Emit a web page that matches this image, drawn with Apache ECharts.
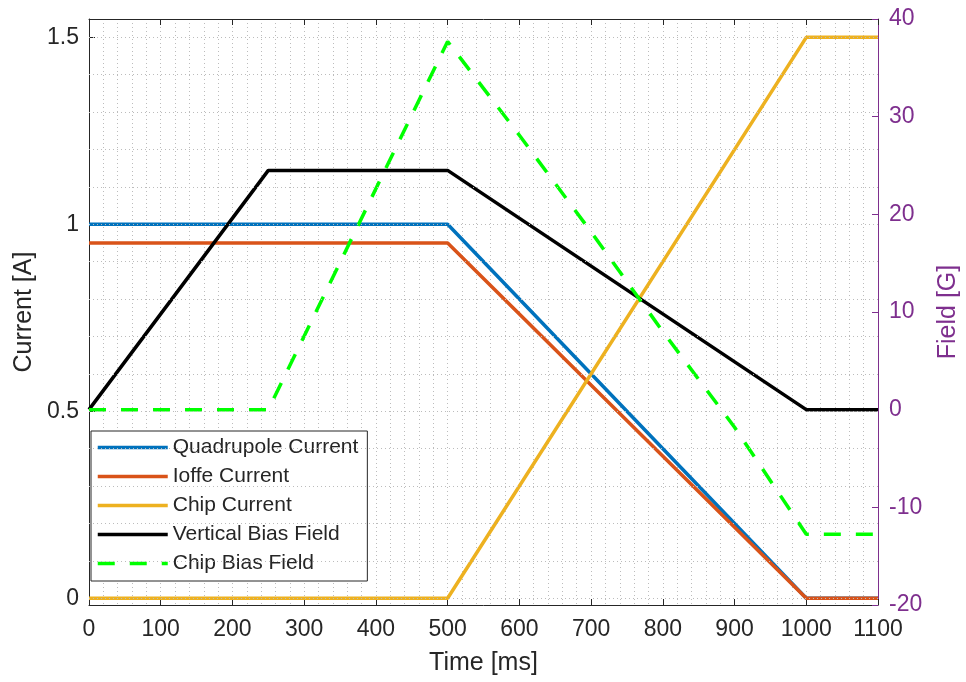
<!DOCTYPE html>
<html>
<head>
<meta charset="utf-8">
<script src="https://cdn.jsdelivr.net/npm/echarts@6/dist/echarts.min.js"></script>
<style>
  html, body { margin: 0; padding: 0; background: #fff; }
  #chart { width: 966px; height: 682px; }
</style>
</head>
<body>
<div id="chart"></div>
<script>
// Coil currents (left axis, A) and bias fields (right axis, G) versus time (ms)
const quadTime = [0, 500, 1000, 1100];
const quadCurrent = [1, 1, 0, 0];

const ioffeTime = [0, 500, 1000, 1100];
const ioffeCurrent = [0.95, 0.95, 0, 0];

const chipTime = [0, 500, 1000, 1100];
const chipCurrent = [0, 0, 1.5, 1.5];

const vertTime = [0, 250, 500, 1000, 1100];
const vertField = [0, 24.5, 24.5, 0, 0];

const chipBiasTime = [0, 250, 500, 600, 700, 800, 900, 1000, 1100];
const chipBiasField = [0, 0, 37.7, 28.1, 18.2, 8.0, -1.8, -12.75, -12.75];

const timeTicks = [0, 100, 200, 300, 400, 500, 600, 700, 800, 900, 1000, 1100];
const currentTicks = [0, 0.5, 1, 1.5];
const currentGridLevels = [0, 0.1, 0.2, 0.3, 0.4, 0.5, 0.6, 0.7, 0.8, 0.9, 1, 1.1, 1.2, 1.3, 1.4, 1.5];
const fieldTicks = [-20, -10, 0, 10, 20, 30, 40];

const FONT = '"Liberation Sans", Arial, Helvetica, sans-serif';
const INK = '#262626';
const PURPLE = '#7E2F8E';
const GRID_DOT = { color: '#bcbcbc', width: 1, type: [1, 3] };
const plainNumber = v => String(v);

const pairs = (xs, ys) => xs.map((x, i) => [x, ys[i]]);

const chart = echarts.init(document.getElementById('chart'), null, { renderer: 'canvas' });

const lineSeries = (name, xs, ys, color, axis, dashed) => ({
  name,
  type: 'line',
  yAxisIndex: axis,
  data: pairs(xs, ys),
  showSymbol: false,
  symbol: 'none',
  animation: false,
  z: 3,
  lineStyle: { color, width: 3.5, type: dashed ? [17, 15] : 'solid', cap: 'butt' },
  itemStyle: { color }
});

chart.setOption({
  animation: false,
  backgroundColor: '#ffffff',
  textStyle: { fontFamily: FONT },
  grid: { left: 89, top: 19, right: 88, bottom: 77, containLabel: false, outerBoundsMode: 'none' },
  legend: {
    data: ['Quadrupole Current', 'Ioffe Current', 'Chip Current', 'Vertical Bias Field', 'Chip Bias Field'],
    orient: 'vertical',
    left: 91,
    top: 431,
    itemWidth: 70,
    itemHeight: 21,
    itemGap: 8,
    padding: [6, 9, 7, 5],
    borderColor: INK,
    borderWidth: 1,
    borderRadius: 0,
    backgroundColor: '#ffffff',
    selectedMode: false,
    itemStyle: { opacity: 0, borderWidth: 0 },
    lineStyle: { width: 3.5 },
    textStyle: { fontSize: 21, color: INK, fontFamily: FONT, padding: [0, 0, 0, 0] }
  },
  xAxis: [
    {
      type: 'value',
      min: timeTicks[0],
      max: timeTicks[timeTicks.length - 1],
      interval: 100,
      name: 'Time [ms]',
      nameLocation: 'middle',
      nameGap: 46,
      nameTextStyle: { fontSize: 25, color: INK, fontFamily: FONT },
      axisLine: { show: true, onZero: false, lineStyle: { color: INK, width: 1 } },
      axisTick: { show: true, inside: true, length: 6, lineStyle: { color: INK } },
      axisLabel: { fontSize: 23, color: INK, margin: 13, fontFamily: FONT, formatter: plainNumber },
      splitLine: { show: true, lineStyle: GRID_DOT },
      minorTick: { show: false, splitNumber: 5 },
      minorSplitLine: { show: true, lineStyle: GRID_DOT }
    },
    {
      type: 'value',
      position: 'top',
      min: timeTicks[0],
      max: timeTicks[timeTicks.length - 1],
      interval: 100,
      axisLine: { show: true, onZero: false, lineStyle: { color: INK, width: 1 } },
      axisTick: { show: true, inside: true, length: 6, lineStyle: { color: INK } },
      axisLabel: { show: false },
      splitLine: { show: false }
    }
  ],
  yAxis: [
    {
      type: 'value',
      position: 'left',
      min: -0.018,
      max: 1.549,
      name: 'Current [A]',
      nameLocation: 'middle',
      nameRotate: 90,
      nameGap: 48,
      nameTextStyle: { fontSize: 25, color: INK, fontFamily: FONT },
      axisLine: { show: true, onZero: false, lineStyle: { color: INK, width: 1 } },
      axisTick: { show: true, inside: true, length: 6, lineStyle: { color: INK }, customValues: currentTicks },
      axisLabel: { fontSize: 23, color: INK, margin: 10, fontFamily: FONT, customValues: currentTicks, formatter: plainNumber },
      splitLine: { show: false }
    },
    {
      type: 'value',
      position: 'right',
      min: fieldTicks[0],
      max: fieldTicks[fieldTicks.length - 1],
      interval: 10,
      name: 'Field [G]',
      nameLocation: 'middle',
      nameRotate: 90,
      nameGap: 58,
      nameTextStyle: { fontSize: 25, color: PURPLE, fontFamily: FONT },
      axisLine: { show: true, onZero: false, lineStyle: { color: PURPLE, width: 1 } },
      axisTick: { show: true, inside: true, length: 6, lineStyle: { color: PURPLE } },
      axisLabel: { fontSize: 23, color: PURPLE, margin: 11, fontFamily: FONT, formatter: plainNumber },
      splitLine: { show: false }
    }
  ],
  series: [
    {
      name: 'current grid',
      type: 'line',
      yAxisIndex: 0,
      data: [],
      silent: true,
      z: 1,
      markLine: {
        silent: true,
        symbol: ['none', 'none'],
        animation: false,
        label: { show: false },
        lineStyle: GRID_DOT,
        data: currentGridLevels.map(v => ({ yAxis: v }))
      }
    },
    lineSeries('Quadrupole Current', quadTime, quadCurrent, '#0072BD', 0, false),
    lineSeries('Ioffe Current', ioffeTime, ioffeCurrent, '#D95319', 0, false),
    lineSeries('Chip Current', chipTime, chipCurrent, '#EDB120', 0, false),
    lineSeries('Vertical Bias Field', vertTime, vertField, '#000000', 1, false),
    lineSeries('Chip Bias Field', chipBiasTime, chipBiasField, '#00FF00', 1, true)
  ]
});
</script>
</body>
</html>
